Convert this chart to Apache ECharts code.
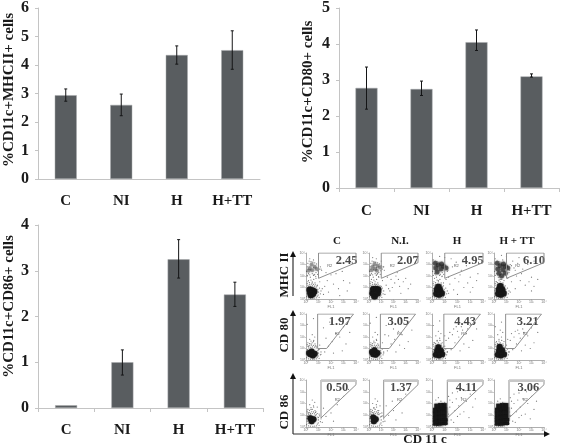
<!DOCTYPE html>
<html><head><meta charset="utf-8">
<style>html,body{margin:0;padding:0;background:#fff}#c{width:563px;height:446px}</style>
<script src="https://cdn.jsdelivr.net/npm/echarts@6/dist/echarts.min.js"></script>
</head><body><div id="c"></div>
<script>
// Bar charts
const categories = ['C','NI','H','H+TT'];
const mhcValues = [2.94,2.6,4.35,4.52];
const mhcLow = [2.73,2.22,4.03,3.85];
const mhcHigh = [3.16,2.98,4.67,5.2];
const cd80Values = [2.78,2.75,4.05,3.1];
const cd80Low = [2.19,2.57,3.82,3.08];
const cd80High = [3.36,2.97,4.39,3.17];
const cd86Values = [0.06,1.0,3.25,2.48];
const cd86Low = [null,0.72,2.84,2.22];
const cd86High = [null,1.27,3.68,2.75];
const mhcTitle = '%CD11c+MHCII+ cells';
const cd80Title = '%CD11c+CD80+ cells';
const cd86Title = '%CD11c+CD86+ cells';

// Flow panels: [log FL1, log FL2]
const colHeads = ['C','N.I.','H','H + TT'];
const rowHeads = ['MHC II','CD 80','CD 86'];
const gateValues = [['2.45','2.07','4.95','6.10'],['1.97','3.05','4.43','3.21'],['0.50','1.37','4.11','3.06']];
const tickNames = ['10⁰','10¹','10²','10³','10⁴'];
const gateMHC = [[1,4],[1,1.8],[4,3.16],[4,4],[1,4]];
const gate80 = [[.93,4],[.93,1],[1.65,1],[3.8,4],[.93,4]];
const gate86 = [[1.2,4],[1.2,.77],[4,3.6],[4,4],[1.2,4]];
const gateBand = [[1.2,3.93],[4,3.93]];
const regionPos = [[1.9,2.9],[2.5,2.3],[2.5,2.3]];

const coreC_M = [[.35,.55],[.5,.75],[.55,.45],[.3,.8],[.65,.65],[.4,.35]];
const coreN_M = [[.3,.5],[.5,.45],[.7,.5],[.35,.85],[.6,.85],[.45,.25],[.75,.8]];
const coreH_M = [[.35,.45],[.55,.4],[.75,.5],[.4,.8],[.6,.8],[.5,1.05]];
const coreT_M = [[.35,.45],[.55,.4],[.75,.5],[.4,.8],[.65,.8],[.5,1.1]];
const coreC_8 = [[.35,.5],[.55,.4],[.7,.55],[.45,.75],[.25,.6]];
const coreN_8 = [[.35,.5],[.55,.45],[.7,.6],[.45,.85],[.25,.7]];
const coreH_8 = [[.3,.45],[.55,.4],[.8,.5],[.4,.8],[.7,.8],[.5,1.1]];
const coreT_8 = [[.3,.45],[.55,.4],[.8,.5],[.4,.8],[.65,.85],[.45,1.15]];
const coreC_6 = [[.45,.5],[.6,.65],[.35,.75]];
const coreN_6 = [[.4,.5],[.55,.65],[.35,.8]];
const coreH_6 = [[.3,.35],[.55,.35],[.8,.4],[1,.4],[.3,.7],[.55,.7],[.8,.75],[1,.75],[.3,1.05],[.55,1.05],[.8,1.1],[1,1.1],[.3,1.4],[.55,1.4],[.8,1.45],[1,1.45],[.4,1.75],[.7,1.8],[.95,1.8]];
const coreT_6 = [[.3,.35],[.55,.35],[.8,.4],[1,.4],[.3,.7],[.55,.7],[.8,.75],[1,.75],[.3,1.05],[.55,1.05],[.8,1.1],[1,1.1],[.3,1.4],[.55,1.4],[.8,1.45],[1,1.45],[.4,1.75],[.7,1.8],[.95,1.8]];

const midC_M = [[.3,2.7],[.5,2.5],[.7,2.8],[.45,3],[.85,2.6],[.2,2.45]];
const midN_M = [[.3,2.8],[.5,2.6],[.7,2.9],[.45,3.05],[.9,2.75],[.2,2.5],[.65,2.45]];
const midH_M = [[.3,2.7],[.5,2.95],[.7,2.6],[.9,2.85],[.4,2.35],[.75,3.05],[1.1,2.7],[.25,3.1]];
const midT_M = [[.3,2.6],[.5,2.9],[.7,2.55],[.9,2.85],[.4,2.25],[.75,3.05],[1.1,2.7],[.25,3.1],[.6,2],[.9,2.25]];

// speckle around the populations
const haloLow = [[.05,.2],[.1,.5],[.12,.9],[.15,1.2],[.22,1.05],[.3,1.25],[.38,1.1],[.45,1.3],[.52,1.15],[.6,1.28],[.68,1.12],[.75,1.24],[.82,1.05],[.9,1.15],[.95,.85],[1,.6],[.98,.35],[1.05,.15],[.85,.1],[.7,.08],[.55,.06],[.35,.07],[.2,.1],[.08,.72],[.18,.32],[.9,.25],[.28,1.42],[.5,1.5],[.72,1.4],[.4,1.65],[.62,1.7],[.15,1.5],[1.08,.95],[1.15,.45],[1.2,.7],[.1,1.35]];
const haloUp = [[.05,2.4],[.1,2.8],[.15,3.1],[.2,2.2],[.3,2.1],[.4,3.25],[.5,2.2],[.55,3.2],[.65,2.15],[.7,3.15],[.8,2.3],[.85,3.05],[.95,2.45],[1,2.9],[1.08,2.6],[.25,3.3],[.1,2.05],[.6,2.05],[.35,1.9],[.78,1.95],[.92,2.15],[.16,2.6],[.38,2.55],[.62,2.72],[1.15,2.8],[1.25,2.5]];

const dotsC_M = [[1.2,2.6],[1.5,1.1],[1.8,.6],[2.2,1.3],[2.6,.9],[3,1.6],[1.4,.4],[2.4,2.2],[3.3,.7],[1.1,1.5],[.2,1.6],[.5,1.4],[.8,1.8],[.1,2],[1,3.2],[.6,3.4],[1.7,1.6],[2,2.1],[2.9,2.4],[3.5,1.4],[.9,1.2],[.3,3.5],[1.3,.9],[2.7,.3],[1.6,2.3],[.7,2.1]];
const dotsN_M = [[1.2,2.8],[1.4,1.2],[1.7,.7],[2.1,1.4],[2.5,1.1],[3,1.8],[1.3,.4],[2.3,2.3],[3.2,.9],[1.1,1.6],[.2,1.7],[.5,1.3],[.8,1.9],[.1,2.1],[1,3.3],[.6,3.5],[1.8,1.7],[2.2,2],[2.8,1.5],[3.4,1.3],[1,1.1],[.3,3.6],[1.5,1.9],[2.6,.5],[1.9,1],[.7,2.2],[2.4,1.7],[1.6,.9]];
const dotsH_M = [[1.2,2.4],[1.4,1.3],[1.7,.8],[2.1,1.5],[2.5,1],[3,1.9],[1.3,.5],[2.3,2.5],[3.2,1],[1.1,1.7],[.2,1.8],[.5,1.6],[.8,2],[.1,3.4],[1,3.6],[.6,3.7],[1.8,1.8],[2.2,2.1],[2.8,1.4],[3.5,1.6],[1.5,3.5],[1.9,3.2],[2.7,2.9],[1.6,2.8],[2.4,3.4],[3,.6],[.9,1.4],[2,.4],[1.3,1.9],[3.6,2.2]];
const dotsT_M = [[1.2,2.3],[1.4,1.5],[1.7,.9],[2.1,1.6],[2.5,1.2],[3,1.9],[1.3,.6],[2.3,2.6],[3.2,1.1],[1.1,1.8],[.2,1.5],[.5,1.7],[.8,1.6],[.1,3.5],[1,3.7],[.6,3.8],[1.8,2],[2.2,2.2],[2.8,1.5],[3.5,1.7],[1.5,3.3],[1.9,3.1],[2.7,3],[1.6,2.7],[2.4,3.5],[3,.7],[1.3,3],[2,3.6],[1.4,2.9],[3.2,3.3],[1.7,2.5],[.7,3.4]];
const dotsC_8 = [[.2,1.2],[.4,1.4],[.6,1.6],[.8,1.2],[.3,1.8],[.7,2],[.5,2.2],[1,.9],[1.2,.5],[1.5,.7],[1.8,1.2],[2.1,1.6],[2.4,2.3],[2.7,2],[3,2.9],[1.4,2.8],[1.9,3.3],[2.6,3.5],[3.2,1.4],[1.1,1.3],[2.2,.6],[3.5,2.4],[.1,3.1],[.6,3.6],[1.6,1.9],[2.9,.8]];
const dotsN_8 = [[.2,1.3],[.4,1.5],[.6,1.8],[.8,1.3],[.3,2],[.7,2.2],[.5,2.4],[1,1],[1.2,.6],[1.5,.8],[1.8,1.4],[2.1,1.8],[2.4,2.5],[2.7,2.2],[3,3.1],[1.4,3],[1.9,3.4],[2.6,3.6],[3.2,1.6],[1.1,1.5],[2.2,.7],[3.5,2.6],[.1,3.2],[.6,3.7],[1.6,2.1],[2.9,1],[1.3,2.2],[2,2.7],[2.5,1.3]];
const dotsH_8 = [[.2,1.5],[.4,1.7],[.6,1.9],[.8,1.5],[.3,2.1],[.7,2.3],[.5,2.5],[1,1.2],[1.2,.7],[1.5,.9],[1.8,1.5],[2.1,2],[2.4,2.6],[2.7,2.3],[3,3],[1.4,2.4],[1.9,2.9],[2.6,3.3],[3.2,1.7],[1.1,1.7],[2.2,.8],[3.5,2.7],[.1,3],[.6,3.4],[1.6,2.2],[2.9,1.1],[1.3,1.9],[2,2.5],[2.5,1.4],[1.7,2.7],[2.3,2.9],[1,2.1],[2.8,2.7]];
const dotsT_8 = [[.2,1.6],[.4,1.8],[.6,2],[.8,1.6],[.3,2.2],[.7,2.4],[.5,2.6],[1,1.3],[1.2,.7],[1.5,.9],[1.8,1.4],[2.1,1.9],[2.4,2.4],[2.7,2.1],[3,2.8],[1.4,2.3],[1.9,2.6],[2.6,3.1],[3.2,1.5],[1.1,1.8],[2.2,.8],[3.5,2.4],[.1,2.9],[.6,3.3],[1.6,2],[2.9,1],[1.3,1.7],[2,2.3],[2.5,1.3],[1.7,2.5],[2.3,2.7]];
const dotsC_6 = [[.2,1.2],[.4,1.5],[.6,1.8],[.8,1.3],[.3,1.9],[.7,2.1],[.5,2.3],[1,.8],[.9,1.7],[1.3,.4],[1.6,.9],[2,1.2],[2.5,1.9],[3,2.6],[1.4,1.6],[2.2,.5],[.1,1],[.35,1.15],[.75,1],[1.05,1.1],[3.4,3.2]];
const dotsN_6 = [[.2,1.3],[.4,1.6],[.6,1.9],[.8,1.4],[.3,2],[.7,2.2],[.5,2.4],[1,.9],[.9,1.8],[1.3,.5],[1.6,1],[2,1.4],[2.5,2.1],[3,2.8],[1.4,1.8],[2.2,.6],[.1,1.1],[.35,1.2],[.75,1.1],[1.05,1.2],[2.7,1.2],[1.9,2.2],[3.3,3.3]];
const dotsH_6 = [[1.3,1.1],[1.4,1.7],[1.5,.6],[1.6,2.1],[1.8,1.4],[2,.9],[2.1,1.8],[2.3,2.5],[2.5,1.3],[2.7,2.2],[3,2.8],[3.2,1.7],[1.3,2.6],[1.6,2.9],[2,3],[2.6,3.1],[1.2,.3],[2.9,.8],[1.7,.4],[.3,2.3],[.7,2.2],[1,2.1],[.5,2.5],[1.4,2.3],[2.2,1.1],[3.4,2.4],[1.9,2.4],[2.4,3.2]];
const dotsT_6 = [[1.3,1],[1.4,1.6],[1.5,.5],[1.6,2],[1.8,1.3],[2,.8],[2.1,1.7],[2.3,2.4],[2.5,1.1],[2.7,2],[3,2.6],[3.2,1.5],[1.3,2.5],[1.6,2.8],[2,2.9],[2.6,3],[1.2,.3],[2.9,.7],[1.7,.4],[.3,2.2],[.7,2.1],[1,2],[.5,2.4],[1.4,2.2],[2.2,1],[3.4,2.2],[1.9,2.3]];

const valueX = [[3.25,3.17,3.2,3.2],[2.7,2.4,2.6,2.7],[2.5,2.6,2.7,2.75]];
const valueY = [3.3,3.35,3.3];

const coreSets = [[coreC_M,coreN_M,coreH_M,coreT_M],[coreC_8,coreN_8,coreH_8,coreT_8],[coreC_6,coreN_6,coreH_6,coreT_6]];
const dotSets = [[dotsC_M,dotsN_M,dotsH_M,dotsT_M],[dotsC_8,dotsN_8,dotsH_8,dotsT_8],[dotsC_6,dotsN_6,dotsH_6,dotsT_6]];
const midSets = [midC_M,midN_M,midH_M,midT_M];
const gates = [gateMHC,gate80,gate86];

const serif = '"Liberation Serif","Times New Roman",serif';
const grids=[],xAxes=[],yAxes=[],series=[];

function addBar(box,title,vals,lo,hi,max,gap,ticks,nameGapY,namePad){
  const i=grids.length;
  grids.push(box);
  xAxes.push({gridIndex:i,type:'category',data:categories,axisLine:{lineStyle:{color:'#c4c4c4'}},
    axisTick:{show:ticks,length:4,lineStyle:{color:'#c4c4c4'}},
    axisLabel:{margin:gap,fontFamily:serif,fontWeight:'bold',fontSize:15,color:'#1a1a1a',interval:0}});
  yAxes.push({gridIndex:i,type:'value',min:0,max:max,interval:1,name:title,nameLocation:'middle',nameGap:nameGapY,
    nameTextStyle:{fontFamily:serif,fontWeight:'bold',fontSize:15,color:'#1a1a1a',padding:[0,0,0,namePad]},
    axisLine:{show:true,lineStyle:{color:'#c4c4c4'}},axisTick:{show:true,length:3,lineStyle:{color:'#c4c4c4'}},splitLine:{show:false},
    axisLabel:{margin:9,fontFamily:serif,fontWeight:'bold',fontSize:16,color:'#1a1a1a'}});
  series.push({type:'bar',xAxisIndex:i,yAxisIndex:i,data:vals,barWidth:22,silent:true,
    itemStyle:{color:'#595d60',borderColor:'#a6a9ab',borderWidth:.5}});
  series.push({type:'custom',xAxisIndex:i,yAxisIndex:i,silent:true,z:6,
    data:categories.map((c,k)=>[k,lo[k],hi[k]]).filter(d=>d[1]!==null),
    encode:{x:0,y:[1,2]},
    renderItem:(p,api)=>{
      const a=api.coord([api.value(0),api.value(1)]),b=api.coord([api.value(0),api.value(2)]);
      const st={stroke:'#141516',lineWidth:1};
      return {type:'group',children:[
        {type:'line',shape:{x1:a[0],y1:a[1],x2:b[0],y2:b[1]},style:st},
        {type:'line',shape:{x1:a[0]-1.5,y1:a[1],x2:a[0]+1.5,y2:a[1]},style:st},
        {type:'line',shape:{x1:b[0]-1.5,y1:b[1],x2:b[0]+1.5,y2:b[1]},style:st}]};
    }});
}
addBar({left:38,top:8,width:222,height:171},mhcTitle,mhcValues,mhcLow,mhcHigh,6,15,false,21,7);
addBar({left:339,top:8,width:220,height:180},cd80Title,cd80Values,cd80Low,cd80High,5,16,true,23,12);
addBar({left:38,top:225,width:225,height:183},cd86Title,cd86Values,cd86Low,cd86High,4,15,true,20,20);

const colX=[[306,356],[369,418],[432,483],[494,544]];
const rowY=[[253,299],[314,360],[380,427]];
rowY.forEach((ry,r)=>colX.forEach((cx,c)=>{
  const i=grids.length;
  grids.push({left:cx[0],top:ry[0],width:cx[1]-cx[0],height:ry[1]-ry[0]});
  xAxes.push({gridIndex:i,type:'value',min:0,max:4,interval:1,name:'FL1',nameLocation:'middle',nameGap:5,
    nameTextStyle:{fontSize:4,color:'#777'},
    axisLine:{lineStyle:{color:'#999',width:.8}},axisTick:{length:1.5,lineStyle:{color:'#999',width:.5}},splitLine:{show:false},
    axisLabel:{fontSize:3.5,color:'#777',margin:1,formatter:v=>tickNames[v]}});
  yAxes.push({gridIndex:i,type:'value',min:0,max:4,interval:1,
    axisLine:{show:true,lineStyle:{color:'#999',width:.8}},axisTick:{show:true,length:1.5,lineStyle:{color:'#999',width:.5}},splitLine:{show:false},
    axisLabel:{fontSize:3.5,color:'#777',margin:1,formatter:v=>tickNames[v]}});
  const base={xAxisIndex:i,yAxisIndex:i,silent:true,animation:false};
  const speck={symbolSize:1.2,itemStyle:{color:'#555'}};
  series.push({...base,...speck,type:'scatter',data:dotSets[r][c]});
  series.push({...base,...speck,type:'scatter',data:haloLow});
  if(r===0){
    series.push({...base,type:'scatter',data:midSets[c],symbolSize:c>1?5:4,itemStyle:{color:'#222',opacity:c>1?.6:.32,shadowBlur:2,shadowColor:'#333'}});
    series.push({...base,...speck,type:'scatter',data:haloUp});
  }
  const big=r===2&&c>1;
  series.push({...base,type:'scatter',data:coreSets[r][c],symbol:big?'rect':'circle',symbolSize:big?5.5:(r===0?6.5:6),
    itemStyle:{color:'#141414',opacity:.9,shadowBlur:1.5,shadowColor:'#222'}});
  series.push({...base,type:'line',data:gates[r],symbol:'none',lineStyle:{color:'#8f8f8f',width:1}});
  if(r===2) series.push({...base,type:'line',data:gateBand,symbol:'none',lineStyle:{color:'#c8c8c8',width:2.5}});
  series.push({...base,type:'scatter',data:[regionPos[r]],symbolSize:0,
    label:{show:true,position:'inside',formatter:'R2',fontSize:4,color:'#333'}});
  series.push({...base,type:'scatter',data:[[valueX[r][c],valueY[r]]],symbolSize:0,
    label:{show:true,position:'inside',formatter:gateValues[r][c],fontFamily:serif,fontWeight:'bold',fontSize:12.5,color:'#1a1a1a'}});
}));

const txt=(t,x,y,size,rot)=>({type:'text',x,y,rotation:rot||0,silent:true,
  style:{text:t,font:'bold '+size+'px '+serif,fill:'#1a1a1a',textAlign:'center',textVerticalAlign:'middle'}});
const arrow=(x1,y1,x2,y2)=>{
  const vert=x1===x2;
  return [{type:'line',silent:true,shape:{x1,y1,x2,y2},style:{stroke:'#333',lineWidth:1.2}},
   {type:'polygon',silent:true,shape:{points:vert?[[x2,y2-3],[x2-3,y2+3],[x2+3,y2+3]]:[[x2+3,y2],[x2-3,y2-3],[x2-3,y2+3]]},style:{fill:'#111'}}];
};
const heads=[337,400,457,517];
const rowC=[275,335,412];
const graphics=[
  ...colHeads.map((t,i)=>txt(t,heads[i],241,11)),
  ...rowHeads.map((t,i)=>txt(t,285,rowC[i],13,Math.PI/2)),
  ...arrow(293,296,293,254),...arrow(293,360,293,313),...arrow(293,434,293,376),...arrow(293,434,547,434),
  txt('CD 11 c',425,440,13)
];

const chart=echarts.init(document.getElementById('c'),null,{renderer:'canvas'});
chart.setOption({animation:false,backgroundColor:'#fff',grid:grids,xAxis:xAxes,yAxis:yAxes,series,graphic:graphics});
</script></body></html>
